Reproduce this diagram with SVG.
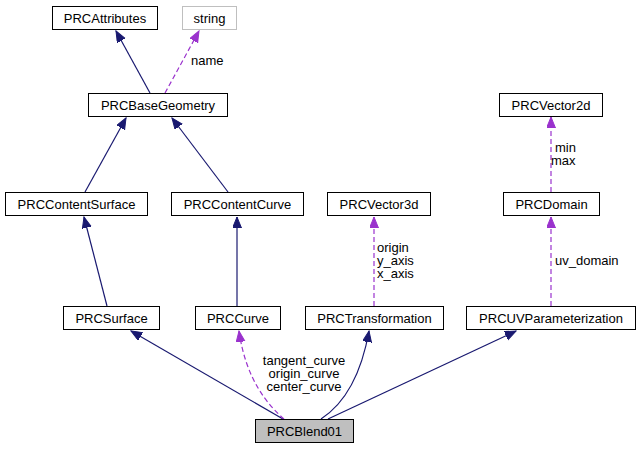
<svg xmlns="http://www.w3.org/2000/svg" width="641" height="449" viewBox="0 0 641 449">
<style>
.n rect{fill:#fff;stroke:#000;stroke-width:1}
.n text{font-family:"Liberation Sans",Arial,sans-serif;font-size:13px;text-anchor:middle;fill:#000}
.e{fill:none;stroke:#191970;stroke-width:1.2}
.d{fill:none;stroke:#9a32cd;stroke-width:1.2;stroke-dasharray:5,3}
.l{font-family:"Liberation Sans",Arial,sans-serif;font-size:13px;fill:#000}
</style>
<defs>
<marker id="an" markerUnits="userSpaceOnUse" markerWidth="12" markerHeight="10" refX="11" refY="4.5" orient="auto"><path d="M0,0 L11,4.5 L0,9 z" fill="#191970" stroke="#191970"/></marker>
<marker id="ap" markerUnits="userSpaceOnUse" markerWidth="12" markerHeight="10" refX="11" refY="4.5" orient="auto"><path d="M0,0 L11,4.5 L0,9 z" fill="#9a32cd" stroke="#9a32cd"/></marker>
</defs>
<rect width="641" height="449" fill="#fff"/>
<g id="edges">
<path class="e" d="M150,93 L116,31" marker-end="url(#an)"/>
<path class="d" d="M165,93 L199,31" marker-end="url(#ap)"/>
<text class="l" x="191" y="65">name</text>
<path class="e" d="M85,192 L126,118" marker-end="url(#an)"/>
<path class="e" d="M228,192 L172,118" marker-end="url(#an)"/>
<path class="e" d="M107,306 L84,217" marker-end="url(#an)"/>
<path class="e" d="M237,306 L237,217" marker-end="url(#an)"/>
<path class="d" d="M374,306 L374,217" marker-end="url(#ap)"/>
<text class="l" x="377" y="252">origin</text>
<text class="l" x="377" y="265">y_axis</text>
<text class="l" x="377" y="278">x_axis</text>
<path class="d" d="M551,306 L551,217" marker-end="url(#ap)"/>
<text class="l" x="555" y="265">uv_domain</text>
<path class="d" d="M551,192 L551,117" marker-end="url(#ap)"/>
<text class="l" x="555" y="152">min</text>
<text class="l" x="551" y="165">max</text>
<path class="e" d="M283,419 L131,331" marker-end="url(#an)"/>
<path class="d" d="M284,419 C268,405 246,380 239,331" marker-end="url(#ap)"/>
<text class="l" x="304" y="365" text-anchor="middle">tangent_curve</text>
<text class="l" x="304" y="378" text-anchor="middle">origin_curve</text>
<text class="l" x="304" y="391" text-anchor="middle">center_curve</text>
<path class="e" d="M321,419 C344,404 361,376 369,331" marker-end="url(#an)"/>
<path class="e" d="M328,419 L516,331" marker-end="url(#an)"/>
</g>
<g id="PRCAttributes" class="n"><rect x="52.5" y="6.5" width="105" height="23"/><text x="105" y="23">PRCAttributes</text></g>
<g id="string" class="n"><rect x="182.5" y="6.5" width="54" height="23" style="stroke:#bfbfbf"/><text x="209.5" y="23">string</text></g>
<g id="PRCBaseGeometry" class="n"><rect x="88.5" y="93.5" width="139" height="23"/><text x="158" y="110">PRCBaseGeometry</text></g>
<g id="PRCVector2d" class="n"><rect x="499.5" y="93.5" width="103" height="23"/><text x="551" y="110">PRCVector2d</text></g>
<g id="PRCContentSurface" class="n"><rect x="5.5" y="192.5" width="142" height="23"/><text x="76.5" y="209">PRCContentSurface</text></g>
<g id="PRCContentCurve" class="n"><rect x="171.5" y="192.5" width="132" height="23"/><text x="237.5" y="209">PRCContentCurve</text></g>
<g id="PRCVector3d" class="n"><rect x="327.5" y="192.5" width="103" height="23"/><text x="379" y="209">PRCVector3d</text></g>
<g id="PRCDomain" class="n"><rect x="503.5" y="192.5" width="96" height="23"/><text x="551.5" y="209">PRCDomain</text></g>
<g id="PRCSurface" class="n"><rect x="63.5" y="306.5" width="96" height="23"/><text x="111.5" y="323">PRCSurface</text></g>
<g id="PRCCurve" class="n"><rect x="195.5" y="306.5" width="85" height="23"/><text x="238" y="323">PRCCurve</text></g>
<g id="PRCTransformation" class="n"><rect x="305.5" y="306.5" width="138" height="23"/><text x="374.5" y="323">PRCTransformation</text></g>
<g id="PRCUVParameterization" class="n"><rect x="466.5" y="306.5" width="169" height="23"/><text x="551" y="323">PRCUVParameterization</text></g>
<g id="PRCBlend01" class="n"><rect x="255.5" y="419.5" width="98" height="23" style="fill:#bfbfbf"/><text x="304.5" y="436">PRCBlend01</text></g>
</svg>
